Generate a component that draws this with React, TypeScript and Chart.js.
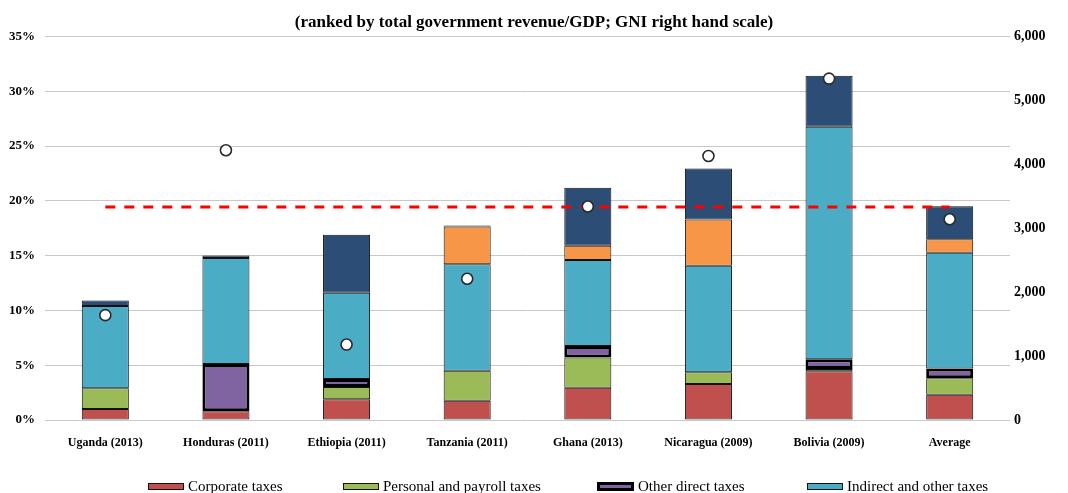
import React, { useEffect, useRef } from "react";
import { Chart, registerables } from "chart.js";

Chart.register(...registerables);

const categories = [
  "Uganda (2013)",
  "Honduras (2011)",
  "Ethiopia (2011)",
  "Tanzania (2011)",
  "Ghana (2013)",
  "Nicaragua (2009)",
  "Bolivia (2009)",
  "Average",
];
const corporateTaxes = [1.0, 0.8, 1.9, 1.75, 2.95, 3.28, 4.45, 2.3];
const personalPayrollTaxes = [1.9, null, 1.1, 2.75, 2.75, 1.07, 0.2, 1.5];
const otherDirectTaxes = [null, 4.3, 0.75, null, 1.05, null, 0.9, 0.9];
const indirectOtherTaxes = [7.5, 9.67, 7.85, 9.7, 7.85, 9.72, 21.2, 10.55];
const otherRevenue = [null, null, null, 3.45, 1.3, 4.23, null, 1.25];
const grants = [0.5, 0.25, 5.3, 0.1, 5.3, 4.64, 4.65, 3.0];
const gniPerCapita = [1640, 4220, 1180, 2210, 3340, 4130, 5340, 3140];
const referenceLevel = [3330, 3330, 3330, 3330, 3330, 3330, 3330, 3330];

const leftTicks = [0, 5, 10, 15, 20, 25, 30, 35];
const rightTicks = [0, 1000, 2000, 3000, 4000, 5000, 6000];

const FONT = "'Liberation Serif', 'DejaVu Serif', serif";
const EDGE = "#111111";

const legendItems = [
  { label: "Corporate taxes", color: "#C0504D", thick: false, left: 148 },
  { label: "Personal and payroll taxes", color: "#9BBB59", thick: false, left: 343 },
  { label: "Other direct taxes", color: "#8064A2", thick: true, left: 597 },
  { label: "Indirect and other taxes", color: "#4BACC6", thick: false, left: 807 },
];

export default function App() {
  const ref = useRef<HTMLCanvasElement | null>(null);

  useEffect(() => {
    if (!ref.current) return;
    const barBase = {
      type: "bar" as const,
      yAxisID: "y",
      borderColor: EDGE,
      borderWidth: 1,
      borderSkipped: false,
      barPercentage: 0.39,
      categoryPercentage: 1,
      order: 2,
    };
    const chart = new Chart(ref.current, {
      type: "bar",
      data: {
        labels: categories,
        datasets: [
          {
            type: "line",
            label: "GNI per capita",
            data: gniPerCapita,
            yAxisID: "y1",
            showLine: false,
            pointRadius: 5.5,
            pointBorderWidth: 1.6,
            pointBackgroundColor: "#ffffff",
            pointBorderColor: "#2a2a2a",
            order: 0,
          } as any,
          {
            type: "line",
            label: "Reference",
            data: referenceLevel,
            yAxisID: "y1",
            borderColor: "#FF0000",
            borderWidth: 3,
            borderDash: [10, 9],
            pointRadius: 0,
            fill: false,
            order: 1,
          } as any,
          { ...barBase, label: "Corporate taxes", data: corporateTaxes, backgroundColor: "#C0504D" },
          { ...barBase, label: "Personal and payroll taxes", data: personalPayrollTaxes, backgroundColor: "#9BBB59" },
          { ...barBase, label: "Other direct taxes", data: otherDirectTaxes, backgroundColor: "#8064A2", borderColor: "#000000", borderWidth: 3 },
          { ...barBase, label: "Indirect and other taxes", data: indirectOtherTaxes, backgroundColor: "#4BACC6" },
          { ...barBase, label: "Other revenue", data: otherRevenue, backgroundColor: "#F79646" },
          { ...barBase, label: "Grants", data: grants, backgroundColor: "#2C4D75" },
        ] as any,
      },
      options: {
        animation: false,
        responsive: false,
        maintainAspectRatio: false,
        layout: { padding: { left: 0, right: 0, top: 0, bottom: 43 } },
        plugins: {
          legend: { display: false },
          tooltip: { enabled: false },
          title: {
            display: true,
            text: "(ranked by total government revenue/GDP; GNI right hand scale)",
            color: "#000000",
            font: { family: FONT, size: 17, weight: "bold" },
            padding: { top: 12, bottom: 4 },
          },
        },
        scales: {
          x: {
            stacked: true,
            grid: { display: false },
            border: { display: false },
            ticks: {
              color: "#000000",
              font: { family: FONT, size: 12, weight: "bold" },
              padding: 8,
              maxRotation: 0,
              autoSkip: false,
            },
            afterFit: (s: any) => {
              s.height = 30;
            },
          },
          y: {
            stacked: true,
            position: "left",
            min: 0,
            max: 35,
            afterBuildTicks: (s: any) => {
              s.ticks = leftTicks.map((v) => ({ value: v }));
            },
            grid: { color: "#C8C8C8", lineWidth: 1, drawTicks: false },
            border: { display: false },
            ticks: {
              color: "#000000",
              font: { family: FONT, size: 13, weight: "bold" },
              padding: 10,
              callback: (v: any) => `${v}%`,
            },
            afterFit: (s: any) => {
              s.width = 45;
            },
          },
          y1: {
            position: "right",
            min: 0,
            max: 6000,
            afterBuildTicks: (s: any) => {
              s.ticks = rightTicks.map((v) => ({ value: v }));
            },
            grid: { display: false, drawTicks: false },
            border: { display: false },
            ticks: {
              color: "#000000",
              font: { family: FONT, size: 14, weight: "bold" },
              padding: 4,
              callback: (v: any) => Number(v).toLocaleString("en-US"),
            },
            afterFit: (s: any) => {
              s.width = 58;
            },
          },
        },
      } as any,
    });
    return () => chart.destroy();
  }, []);

  return (
    <div style={{ position: "fixed", left: 0, top: 0, width: 1068, height: 493, background: "#ffffff" }}>
      <canvas ref={ref} width={1068} height={493} style={{ width: 1068, height: 493, display: "block" }} />
      {legendItems.map((it) => (
        <div
          key={it.label}
          style={{
            position: "absolute",
            left: it.left,
            top: 477,
            height: 18,
            display: "flex",
            alignItems: "center",
            gap: 4,
            fontFamily: FONT,
            fontSize: 15,
            color: "#000000",
            whiteSpace: "nowrap",
          }}
        >
          <span
            style={{
              display: "inline-block",
              boxSizing: "border-box",
              width: it.thick ? 37 : 36,
              height: it.thick ? 9 : 7,
              background: it.color,
              border: it.thick ? "3px solid #000000" : `1px solid ${EDGE}`,
            }}
          />
          <span>{it.label}</span>
        </div>
      ))}
    </div>
  );
}
